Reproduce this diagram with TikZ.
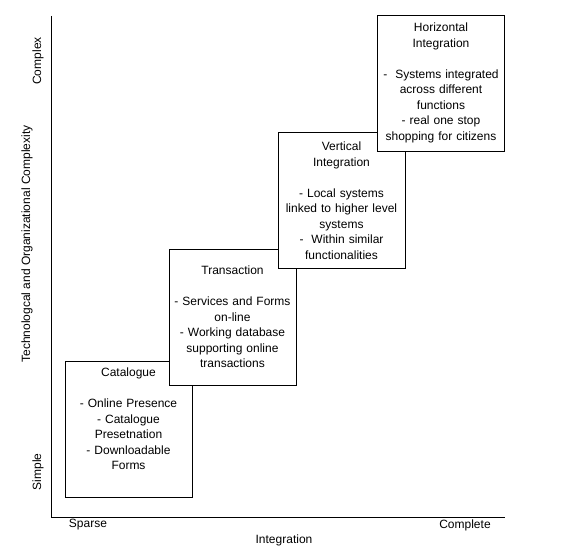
\documentclass[tikz,border=0pt]{standalone}
\usepackage{fontspec}
\setmainfont{Liberation Sans}
\usetikzlibrary{arrows,positioning}

\begin{document}
\begin{tikzpicture}[x=1pt,y=1pt,
  stage/.style={rectangle,draw=black,fill=white,line width=0.8pt,minimum width=127pt,minimum height=136pt,text width=122pt,align=center,inner sep=0pt,font=\fontsize{12}{15.5}\selectfont},
  axlabel/.style={font=\fontsize{12}{14}\selectfont,inner sep=0pt}]
\useasboundingbox (0,0) rectangle (563,556);
\coordinate (o) at (51,39);
\coordinate (top) at (51,540);
\coordinate (right) at (505,39);
\draw[line width=0.9pt] (top) -- (o) -- (right);

\node[stage] (cat) at (128.5,127){Catalogue\\[15.5pt]- Online Presence\\- Catalogue\\Presetnation\\- Downloadable\\Forms\\ \strut};
\node[stage] (tra) at (232.5,239){Transaction\\[15.5pt]- Services and Forms\\on-line\\- Working database\\supporting online\\transactions};
\node[stage] (ver) at (341.5,355.5){Vertical\\Integration\\[15.5pt]- Local systems\\linked to higher level\\systems\\-\ \ Within similar\\functionalities};
\node[stage] (hor) at (441,473){Horizontal\\Integration\\[15.5pt]-\ \ Systems integrated\\across different\\functions\\- real one stop\\shopping for citizens};

\node[axlabel,rotate=90] (cpx) at (38,495){Complex};
\node[axlabel,rotate=90] (smp) at (38,84){Simple};
\node[axlabel,rotate=90] (ylab) at (27,312){Technologcal and Organizational Complexity};
\node[axlabel] (spa) at (88,31){Sparse};
\node[axlabel] (cmp) at (465,31){Complete};
\node[axlabel] (xlab) at (284,16){Integration};

\end{tikzpicture}
\end{document}
